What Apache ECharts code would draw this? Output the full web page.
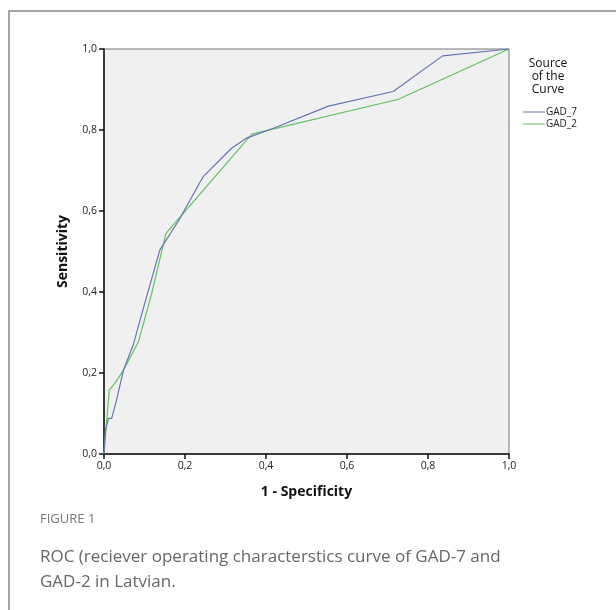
<!DOCTYPE html>
<html><head><meta charset="utf-8">
<script src="https://cdn.jsdelivr.net/npm/echarts@6/dist/echarts.min.js"></script>
<style>html,body{margin:0;padding:0;background:#fff}#c{width:616px;height:610px}</style>
</head><body><div id="c"></div>
<script>
const seriesNames = ['GAD_7', 'GAD_2'];
const gad7 = [[0,0],[0.003,0.055],[0.011,0.088],[0.019,0.088],[0.031,0.133],[0.048,0.207],[0.072,0.269],[0.10,0.37],[0.138,0.504],[0.183,0.574],[0.245,0.685],[0.315,0.755],[0.352,0.78],[0.42,0.805],[0.554,0.859],[0.714,0.895],[0.836,0.983],[1,1]];
const gad2 = [[0,0],[0.013,0.158],[0.027,0.175],[0.048,0.207],[0.085,0.277],[0.118,0.397],[0.153,0.545],[0.365,0.79],[0.727,0.876],[1,1]];
const tickVals = [0, 0.2, 0.4, 0.6, 0.8, 1.0];
const fmt = v => v.toFixed(1).replace('.', ',');
const chart = echarts.init(document.getElementById('c'));
const tickFont = {fontFamily:'Open Sans', fontSize:10.5, color:'#222'};
chart.setOption({
  animation:false,
  backgroundColor:'#fff',
  grid:{left:104, top:49, width:405, height:405, show:true, backgroundColor:'#f0f0f0', borderColor:'#777', borderWidth:1},
  xAxis:{type:'value', min:0, max:1, interval:0.2,
    name:'1 - Specificity', nameLocation:'middle', nameGap:31,
    nameTextStyle:{fontFamily:'Open Sans', fontWeight:'bold', fontSize:14, color:'#111'},
    axisLine:{lineStyle:{color:'#111', width:1.5}}, axisTick:{show:true, length:5, lineStyle:{color:'#111', width:1.5}},
    axisLabel:Object.assign({margin:7, formatter:fmt}, tickFont), splitLine:{show:false}},
  yAxis:{type:'value', min:0, max:1, interval:0.2,
    name:'Sensitivity', nameLocation:'middle', nameGap:34, nameRotate:90,
    nameTextStyle:{fontFamily:'Open Sans', fontWeight:'bold', fontSize:14, color:'#111'},
    axisLine:{lineStyle:{color:'#111', width:1.5}}, axisTick:{show:true, length:5, lineStyle:{color:'#111', width:1.5}},
    axisLabel:Object.assign({margin:7, formatter:fmt}, tickFont), splitLine:{show:false}},
  legend:{orient:'vertical', left:518, top:102, itemWidth:22, itemHeight:8, itemGap:2,
    textStyle:{fontFamily:'Open Sans', fontSize:10, color:'#222', padding:[0,0,0,-4]},
    data:seriesNames.map(n=>({name:n, icon:'path://M0,5L22,5L22,6L0,6Z'}))},
  series:[
    {name:seriesNames[0], type:'line', data:gad7, showSymbol:false, symbol:'none', lineStyle:{color:'#6474b8', width:1.2}, itemStyle:{color:'#6474b8'}, z:3},
    {name:seriesNames[1], type:'line', data:gad2, showSymbol:false, symbol:'none', lineStyle:{color:'#5fc35f', width:1.2}, itemStyle:{color:'#5fc35f'}, z:2}
  ],
  graphic:[
    {type:'rect', shape:{x:9, y:11, width:700, height:700}, style:{fill:'none', stroke:'#888', lineWidth:1.5}, silent:true},
    {type:'text', x:548, y:57, style:{text:'Source\nof the\nCurve', fontFamily:'Open Sans', fontSize:12, lineHeight:13, fill:'#111', align:'center'}},
    {type:'text', x:40, y:513, style:{text:'FIGURE 1', fontFamily:'Open Sans', fontSize:13, fill:'#777'}},
    {type:'text', x:40, y:545, style:{text:'ROC (reciever operating characterstics curve of GAD-7 and\nGAD-2 in Latvian.', fontFamily:'Open Sans', fontSize:17, lineHeight:25, fill:'#666'}}
  ]
});
</script></body></html>
